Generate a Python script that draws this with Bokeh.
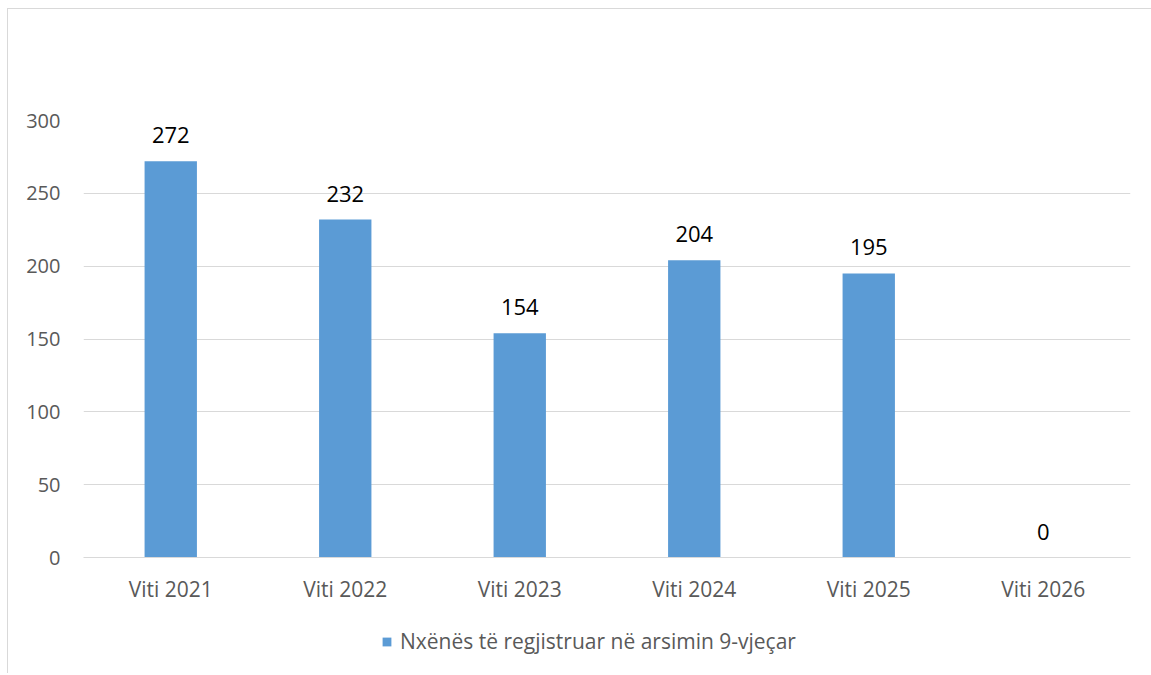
from bokeh.plotting import figure
from bokeh.layouts import column
from bokeh.models import ColumnDataSource, LabelSet, Legend, LegendItem, FixedTicker
from bokeh.core.properties import value
from bokeh.embed import file_html
from bokeh.resources import INLINE

categories = ["Viti 2021", "Viti 2022", "Viti 2023", "Viti 2024", "Viti 2025", "Viti 2026"]
values = [272, 232, 154, 204, 195, 0]
series_name = "Nxënës të regjistruar në arsimin 9-vjeçar"
y_ticks = [0, 50, 100, 150, 200, 250, 300]

FONT = "Open Sans"
BAR = "#5B9BD5"
GRID = "#D9D9D9"
TXT = "#595959"
W = 1143

src = ColumnDataSource(dict(cat=categories, val=values, lab=[str(v) for v in values]))

p = figure(x_range=categories, y_range=(0, 300), width=W, height=598,
           output_backend="svg", toolbar_location=None,
           min_border_left=75, min_border_right=21, min_border_top=111, min_border_bottom=50)
p.x_range.range_padding = 0

r = p.vbar(x="cat", top="val", width=0.3, source=src, fill_color=BAR, line_color=None)

labels = LabelSet(x="cat", y="val", text="lab", source=src, text_align="center",
                  text_baseline="alphabetic", y_offset=18, text_font=value(FONT),
                  text_font_size="22px", text_color="#000000")
p.add_layout(labels)

p.outline_line_color = None
p.xgrid.grid_line_color = None
p.ygrid.grid_line_color = GRID
p.ygrid.grid_line_width = 1
p.yaxis.ticker = FixedTicker(ticks=y_ticks)
for ax in (p.xaxis, p.yaxis):
    ax.axis_line_color = None
    ax.major_tick_line_color = None
    ax.minor_tick_line_color = None
    ax.major_tick_out = 0
    ax.major_tick_in = 0
    ax.major_label_text_font = FONT
    ax.major_label_text_color = TXT
p.yaxis.major_label_text_font_size = "20px"
p.xaxis.major_label_text_font_size = "21px"
p.yaxis.major_label_standoff = 23
p.xaxis.major_label_standoff = 17
p.xaxis.axis_line_color = GRID

# legend strip below the chart
p2 = figure(x_range=categories, y_range=(0, 300), width=W, height=66,
            output_backend="svg", toolbar_location=None,
            x_axis_location=None, y_axis_location=None,
            min_border_left=0, min_border_right=0, min_border_top=0, min_border_bottom=0)
p2.outline_line_color = None
p2.grid.visible = False
r2 = p2.vbar(x="cat", top="val", width=0.3, source=src, fill_color=BAR, line_color=None)
r2.visible = False
legend = Legend(items=[LegendItem(label=series_name, renderers=[r2])], location=(298, 18),
                orientation="horizontal", border_line_color=None, background_fill_alpha=0,
                label_text_font=FONT, label_text_font_size="21px", label_text_color=TXT,
                glyph_width=11, glyph_height=11, label_height=24, margin=0, padding=0,
                label_standoff=8)
p2.add_layout(legend)

layout = column(p, p2, spacing=0,
                styles={"margin-left": "7px", "margin-top": "8px",
                        "border-left": "1px solid #D9D9D9", "border-top": "1px solid #D9D9D9"})

open("out.html", "w").write(file_html(layout, INLINE))
